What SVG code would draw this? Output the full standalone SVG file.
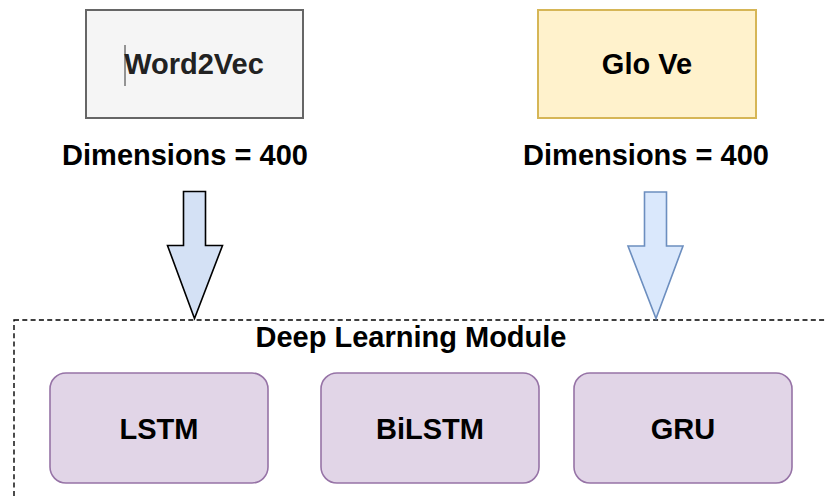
<svg xmlns="http://www.w3.org/2000/svg" width="826" height="498" viewBox="0 0 826 498">
<style>
  text { font-family: "Liberation Sans", Arial, sans-serif; font-weight: bold; font-size: 29px; text-anchor: middle; fill: #000; }
  .model { fill: #e1d5e7; stroke: #9673a6; stroke-width: 1.6; }
  .arrow { stroke-width: 1.6; stroke-linejoin: miter; }
</style>
<rect width="826" height="498" fill="#ffffff"/>
<g id="deep-learning-module">
  <rect x="14" y="320" width="830" height="200" fill="none" stroke="#000" stroke-width="1.4" stroke-dasharray="5 3.3"/>
  <text x="411" y="347">Deep Learning Module</text>
</g>
<g id="word2vec">
  <rect x="86" y="10" width="217" height="108" fill="#f5f5f5" stroke="#666666" stroke-width="2"/>
  <line x1="125" y1="45" x2="125" y2="86" stroke="#333" stroke-width="1"/>
  <text x="194" y="74" style="fill:#222222">Word2Vec</text>
  <text x="185" y="165">Dimensions = 400</text>
</g>
<g id="glove">
  <rect x="538" y="10" width="218" height="108" fill="#fff2cc" stroke="#d6b656" stroke-width="2"/>
  <text x="647" y="74">Glo Ve</text>
  <text x="646" y="165">Dimensions = 400</text>
</g>
<g id="lstm">
  <rect class="model" x="50" y="373" width="218" height="110" rx="16"/>
  <text x="159" y="439">LSTM</text>
</g>
<g id="bilstm">
  <rect class="model" x="321" y="373" width="218" height="110" rx="16"/>
  <text x="430" y="439">BiLSTM</text>
</g>
<g id="gru">
  <rect class="model" x="574" y="373" width="218" height="110" rx="16"/>
  <text x="683" y="439">GRU</text>
</g>
<g id="connectors">
  <path class="arrow" d="M183.5 191.5 H205.5 V245.5 H222.5 L194.5 318.5 L167.5 245.5 H183.5 Z" fill="#d4e1f5" stroke="#000"/>
  <path class="arrow" d="M644.5 192 H666.5 V246 H683 L656 318.5 L628 246 H644.5 Z" fill="#dae8fc" stroke="#6c8ebf"/>
</g>
</svg>
